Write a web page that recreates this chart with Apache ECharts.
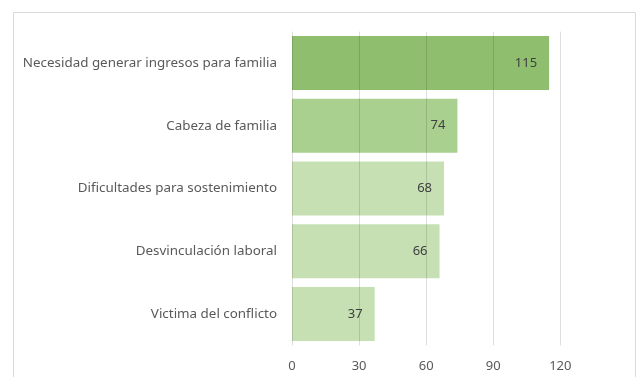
<!DOCTYPE html>
<html>
<head>
<meta charset="utf-8">
<script src="https://cdn.jsdelivr.net/npm/echarts@6/dist/echarts.min.js"></script>
<style>
  html, body { margin: 0; padding: 0; background: #ffffff; }
  #chart { width: 637px; height: 377px; }
</style>
</head>
<body>
<div id="chart"></div>
<script>
// Motivos (top to bottom) and number of responses for each
const categories = [
  'Necesidad generar ingresos para familia',
  'Cabeza de familia',
  'Dificultades para sostenimiento',
  'Desvinculación laboral',
  'Victima del conflicto'
];
const values = [115, 74, 68, 66, 37];
const barColors = ['#8fbf6e', '#a9d08e', '#c6e0b4', '#c6e0b4', '#c6e0b4'];
const xTicks = [0, 30, 60, 90, 120];

const chart = echarts.init(document.getElementById('chart'), null, { renderer: 'canvas' });

const fontFamily = '"Noto Sans", "Open Sans", sans-serif';

chart.setOption({
  animation: false,
  backgroundColor: '#ffffff',
  grid: { left: 292, right: 32, top: 31.6, bottom: 31.6, containLabel: false },
  graphic: [{
    type: 'rect',
    shape: { x: 13.5, y: 12.5, width: 622, height: 400 },
    style: { fill: 'none', stroke: '#d9d9d9', lineWidth: 1 },
    silent: true,
    z: 0
  }],
  xAxis: {
    type: 'value',
    min: 0,
    max: 140,
    interval: 30,
    z: 3,
    axisLine: { show: false },
    axisTick: { show: false },
    axisLabel: {
      color: '#595959',
      fontSize: 13,
      fontFamily: fontFamily,
      margin: 14,
      showMaxLabel: false,
      formatter: v => (xTicks.indexOf(v) >= 0 ? String(v) : '')
    },
    splitLine: {
      show: true,
      showMinLine: true,
      showMaxLine: false,
      lineStyle: { color: 'rgba(0,0,0,0.13)', width: 1 }
    }
  },
  yAxis: {
    type: 'category',
    data: categories,
    inverse: true,
    axisLine: { show: false },
    axisTick: { show: false },
    axisLabel: {
      color: '#595959',
      fontSize: 13.4,
      fontFamily: fontFamily,
      margin: 15
    }
  },
  series: [{
    type: 'bar',
    data: values.map((v, i) => ({ value: v, itemStyle: { color: barColors[i] } })),
    barCategoryGap: '14%',
    label: {
      show: true,
      position: 'insideRight',
      distance: 12,
      color: '#404040',
      fontSize: 13,
      fontFamily: fontFamily
    }
  }]
});
</script>
</body>
</html>
